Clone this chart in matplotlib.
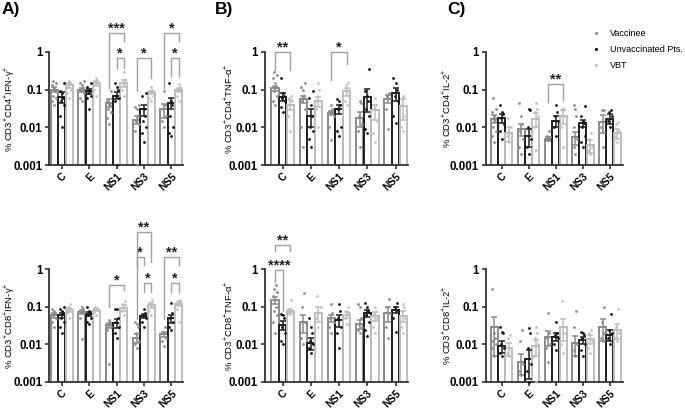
import numpy as np
import matplotlib.pyplot as plt
from matplotlib.lines import Line2D
from matplotlib.ticker import NullLocator

plt.rcParams['font.family'] = 'Liberation Sans'
plt.rcParams['mathtext.fontset'] = 'custom'
plt.rcParams['mathtext.rm'] = 'Liberation Sans'
plt.rcParams['mathtext.it'] = 'Liberation Sans:italic'
plt.rcParams['mathtext.bf'] = 'Liberation Sans:bold'

groups = ['C', 'E', 'NS1', 'NS3', 'NS5']
series = ['Vaccinee', 'Unvaccinated Pts.', 'VBT']

# CD4 IFN-g
cd4_ifn_mean = [[0.10, 0.10, 0.045, 0.016, 0.030],
                [0.065, 0.090, 0.070, 0.030, 0.045],
                [0.13, 0.15, 0.15, 0.085, 0.10]]
cd4_ifn_sem = [[0.015, 0.012, 0.010, 0.004, 0.012],
               [0.020, 0.012, 0.015, 0.010, 0.015],
               [0.020, 0.025, 0.030, 0.010, 0.012]]
cd4_ifn_pts = [[[0.04, 0.05, 0.06, 0.07, 0.09, 0.11, 0.13, 0.15, 0.17],
                [0.05, 0.06, 0.08, 0.09, 0.11, 0.13, 0.15, 0.17],
                [0.012, 0.018, 0.025, 0.03, 0.04, 0.045, 0.05, 0.09],
                [0.001, 0.008, 0.012, 0.015, 0.02, 0.03, 0.035, 0.038],
                [0.01, 0.015, 0.02, 0.03, 0.04, 0.09]],
               [[0.01, 0.02, 0.04, 0.05, 0.06, 0.08, 0.09, 0.15],
                [0.03, 0.06, 0.07, 0.08, 0.09, 0.1, 0.12, 0.15],
                [0.001, 0.05, 0.06, 0.07, 0.1, 0.12, 0.15],
                [0.004, 0.007, 0.01, 0.015, 0.02, 0.03, 0.07, 0.08],
                [0.006, 0.007, 0.01, 0.02, 0.04, 0.05, 0.15]],
               [[0.06, 0.08, 0.1, 0.13, 0.15, 0.17],
                [0.07, 0.1, 0.13, 0.15, 0.18, 0.2],
                [0.07, 0.1, 0.13, 0.15, 0.18, 0.3],
                [0.05, 0.06, 0.07, 0.09, 0.1, 0.12],
                [0.05, 0.07, 0.09, 0.1, 0.12, 0.14]]]

# CD4 TNF-a
cd4_tnf_mean = [[0.11, 0.055, 0.024, 0.018, 0.058],
                [0.065, 0.020, 0.030, 0.065, 0.080],
                [0.040, 0.050, 0.090, 0.028, 0.036]]
cd4_tnf_sem = [[0.015, 0.012, 0.003, 0.008, 0.015],
               [0.015, 0.010, 0.008, 0.040, 0.030],
               [0.012, 0.015, 0.020, 0.012, 0.020]]
cd4_tnf_pts = [[[0.04, 0.05, 0.07, 0.09, 0.12, 0.15, 0.2, 0.25, 0.3],
                [0.003, 0.01, 0.03, 0.05, 0.07, 0.1, 0.12, 0.15],
                [0.0045, 0.01, 0.02, 0.025, 0.03, 0.04],
                [0.003, 0.008, 0.012, 0.02, 0.045, 0.05],
                [0.009, 0.03, 0.06, 0.07, 0.08]],
               [[0.025, 0.035, 0.05, 0.06, 0.07, 0.08, 0.2],
                [0.003, 0.005, 0.008, 0.01, 0.02, 0.04, 0.06, 0.09],
                [0.006, 0.008, 0.01, 0.03, 0.04, 0.05, 0.055],
                [0.007, 0.009, 0.02, 0.03, 0.05, 0.07, 0.09, 0.35],
                [0.013, 0.02, 0.05, 0.07, 0.1, 0.15, 0.2]],
               [[0.008, 0.02, 0.05, 0.06, 0.07],
                [0.01, 0.03, 0.05, 0.07, 0.1, 0.15],
                [0.04, 0.05, 0.1, 0.13, 0.15],
                [0.004, 0.007, 0.015, 0.03, 0.04, 0.06],
                [0.008, 0.01, 0.02, 0.04, 0.06, 0.07]]]

# CD4 IL-2
cd4_il2_mean = [[0.017, 0.009, 0.005, 0.0055, 0.014],
                [0.018, 0.006, 0.015, 0.013, 0.017],
                [0.007, 0.017, 0.020, 0.0033, 0.007]]
cd4_il2_sem = [[0.004, 0.003, 0.0007, 0.002, 0.007],
               [0.005, 0.003, 0.005, 0.003, 0.005],
               [0.003, 0.007, 0.008, 0.0012, 0.002]]
cd4_il2_pts = [[[0.004, 0.006, 0.008, 0.01, 0.015, 0.02, 0.025, 0.03, 0.06],
                [0.002, 0.003, 0.005, 0.008, 0.012, 0.02, 0.045],
                [0.0045, 0.005, 0.0055, 0.006, 0.008],
                [0.002, 0.003, 0.005, 0.01, 0.02, 0.03, 0.04],
                [0.003, 0.01, 0.028, 0.028]],
               [[0.005, 0.008, 0.012, 0.018, 0.022, 0.025, 0.04],
                [0.002, 0.003, 0.005, 0.01, 0.028, 0.03],
                [0.006, 0.01, 0.015, 0.02, 0.025, 0.038],
                [0.003, 0.004, 0.006, 0.01, 0.013, 0.015, 0.02, 0.037],
                [0.01, 0.015, 0.02, 0.025, 0.028]],
               [[0.004, 0.006, 0.01, 0.018],
                [0.0025, 0.01, 0.02, 0.025, 0.03, 0.045],
                [0.003, 0.01, 0.02, 0.028, 0.03, 0.032],
                [0.002, 0.0025, 0.003, 0.005, 0.007],
                [0.004, 0.006, 0.008, 0.012, 0.014]]]

# CD8 IFN-g
cd8_ifn_mean = [[0.060, 0.075, 0.033, 0.015, 0.019],
                [0.060, 0.065, 0.037, 0.058, 0.050],
                [0.085, 0.085, 0.095, 0.11, 0.12]]
cd8_ifn_sem = [[0.008, 0.010, 0.005, 0.004, 0.003],
               [0.010, 0.008, 0.010, 0.008, 0.012],
               [0.010, 0.008, 0.015, 0.015, 0.015]]
cd8_ifn_pts = [[[0.03, 0.04, 0.05, 0.06, 0.07, 0.08, 0.09],
                [0.014, 0.05, 0.07, 0.08, 0.09, 0.1],
                [0.003, 0.025, 0.03, 0.033, 0.04, 0.045],
                [0.008, 0.01, 0.012, 0.02, 0.03, 0.035, 0.04],
                [0.009, 0.012, 0.015, 0.02, 0.03]],
               [[0.02, 0.03, 0.04, 0.05, 0.07, 0.08, 0.09, 0.1],
                [0.035, 0.04, 0.05, 0.06, 0.07, 0.08, 0.1],
                [0.015, 0.02, 0.03, 0.04, 0.05, 0.09, 0.09],
                [0.03, 0.04, 0.05, 0.06, 0.07, 0.09],
                [0.025, 0.03, 0.04, 0.05, 0.07, 0.13]],
               [[0.05, 0.07, 0.09, 0.1, 0.12],
                [0.06, 0.075, 0.085, 0.1],
                [0.06, 0.08, 0.1, 0.12, 0.14],
                [0.06, 0.08, 0.1, 0.13, 0.15],
                [0.04, 0.09, 0.12, 0.14, 0.15]]]

# CD8 TNF-a
cd8_tnf_mean = [[0.15, 0.040, 0.050, 0.036, 0.070],
                [0.033, 0.011, 0.045, 0.070, 0.085],
                [0.080, 0.070, 0.062, 0.058, 0.058]]
cd8_tnf_sem = [[0.030, 0.020, 0.010, 0.010, 0.030],
               [0.008, 0.004, 0.015, 0.015, 0.015],
               [0.010, 0.030, 0.012, 0.015, 0.018]]
cd8_tnf_pts = [[[0.02, 0.04, 0.06, 0.08, 0.1, 0.15, 0.2, 0.25, 0.3, 0.38],
                [0.01, 0.015, 0.04, 0.1, 0.24],
                [0.02, 0.03, 0.04, 0.05, 0.07, 0.12],
                [0.02, 0.025, 0.03, 0.035, 0.05, 0.1, 0.12],
                [0.015, 0.03, 0.07, 0.1, 0.16]],
               [[0.01, 0.012, 0.02, 0.03, 0.05, 0.06, 0.065],
                [0.006, 0.008, 0.01, 0.012, 0.02, 0.03, 0.05],
                [0.008, 0.02, 0.03, 0.05, 0.08, 0.12],
                [0.017, 0.025, 0.04, 0.06, 0.08, 0.1, 0.13],
                [0.022, 0.05, 0.08, 0.1, 0.13]],
               [[0.065, 0.07, 0.08, 0.09, 0.15],
                [0.03, 0.05, 0.1, 0.2],
                [0.035, 0.05, 0.07, 0.08, 0.1],
                [0.02, 0.03, 0.05, 0.07, 0.08, 0.1],
                [0.02, 0.03, 0.05, 0.08, 0.1, 0.12]]]

# CD8 IL-2
cd8_il2_mean = [[0.030, 0.0035, 0.016, 0.011, 0.030],
                [0.009, 0.0042, 0.016, 0.013, 0.018],
                [0.008, 0.009, 0.030, 0.014, 0.024]]
cd8_il2_sem = [[0.025, 0.002, 0.007, 0.006, 0.018],
               [0.003, 0.003, 0.004, 0.003, 0.006],
               [0.003, 0.004, 0.018, 0.004, 0.010]]
cd8_il2_pts = [[[0.005, 0.008, 0.01, 0.012, 0.015, 0.02, 0.3],
                [0.0015, 0.002, 0.003, 0.012, 0.024],
                [0.0035, 0.008, 0.01, 0.015, 0.02, 0.07],
                [0.005, 0.007, 0.01, 0.03, 0.08],
                [0.012, 0.015, 0.02, 0.04, 0.1]],
               [[0.005, 0.006, 0.008, 0.01, 0.02, 0.022, 0.03],
                [0.001, 0.002, 0.003, 0.008, 0.02, 0.027],
                [0.007, 0.01, 0.015, 0.018, 0.02, 0.04],
                [0.005, 0.007, 0.01, 0.015, 0.018, 0.02, 0.022],
                [0.01, 0.015, 0.02, 0.025, 0.065]],
               [[0.005, 0.006, 0.008, 0.015, 0.018],
                [0.001, 0.005, 0.01, 0.015, 0.02, 0.03],
                [0.006, 0.01, 0.02, 0.14],
                [0.006, 0.008, 0.012, 0.02, 0.025],
                [0.012, 0.015, 0.02, 0.03, 0.09]]]

# significance brackets: (group, bar a, bar b, top, left leg end, right leg end, label)
cd4_ifn_sig = [(2, 0, 2, 3.2, 0.11, 2.0, '***'), (2, 1, 2, 0.68, 0.38, 0.38, '*'),
               (3, 0, 2, 0.68, 0.09, 0.21, '*'), (4, 0, 2, 3.2, 0.11, 2.0, '*'),
               (4, 1, 2, 0.68, 0.23, 0.23, '*')]
cd4_tnf_sig = [(0, 0, 2, 1.0, 0.33, 0.33, '**'), (2, 0, 2, 1.0, 0.18, 0.47, '*')]
cd4_il2_sig = [(2, 0, 2, 0.14, 0.047, 0.053, '**')]
cd8_ifn_sig = [(2, 0, 2, 0.39, 0.1, 0.28, '*'), (3, 0, 2, 9.7, 1.22, 1.53, '**'),
               (3, 0, 1, 2.08, 0.047, 1.28, '*'), (3, 1, 2, 0.43, 0.25, 0.25, '*'),
               (4, 0, 2, 2.08, 0.047, 1.28, '**'), (4, 1, 2, 0.43, 0.25, 0.25, '*')]
cd8_tnf_sig = [(0, 0, 1, 0.96, 0.45, 0.078, '****'), (0, 0, 2, 4.4, 3.06, 3.06, '**')]
cd8_il2_sig = []

edge_cols = ['#8a8a8a', '#1e1e1e', '#bdbdbd']
dot_cols = ['#8c8c8c', '#111111', '#c4c4c4']
bw = 0.26
offs = [-0.27, 0.0, 0.27]
jit = [0, -0.28, 0.28, -0.14, 0.14]
axis_col = '#333333'


def draw(ax, means, sems, pts, ylabel, sig, xlim, ylab_x):
    x = np.arange(len(groups))
    ax.set_yscale('log')
    for s in range(3):
        xs = x + offs[s]
        m = np.array(means[s])
        e = np.array(sems[s])
        ax.bar(xs, m - 1e-4, bottom=1e-4, width=bw, color='white',
               edgecolor=edge_cols[s], linewidth=1.4, zorder=2)
        for g in range(len(groups)):
            vals = sorted(pts[s][g])
            dx = [jit[k % len(jit)] * bw for k in range(len(vals))]
            ax.scatter(xs[g] + np.array(dx), vals, s=4, color=dot_cols[s],
                       linewidths=0, zorder=3, clip_on=False)
        ax.errorbar(xs, m, yerr=[np.minimum(e, m * 0.9), e], fmt='none',
                    ecolor=edge_cols[s], elinewidth=1.1, capsize=2,
                    capthick=1.1, zorder=4)
    for g, a, b, top, yl, yr, lab in sig:
        xa = g + offs[a]
        xb = g + offs[b]
        ax.plot([xa, xa, xb, xb], [yl, top, top, yr], color='#a0a0a0',
                lw=1.0, clip_on=False, zorder=5)
        ax.annotate(lab, xy=((xa + xb) / 2, top), xytext=(0, 0.5),
                    textcoords='offset points', ha='center', va='baseline',
                    fontsize=10.5, fontweight='bold', color='#222222',
                    annotation_clip=False)
    ax.set_ylim(0.001, 1)
    ax.set_xlim(*xlim)
    ax.set_yticks([0.001, 0.01, 0.1, 1])
    ax.set_yticklabels(['0.001', '0.01', '0.1', '1'], fontweight='bold')
    ax.yaxis.set_minor_locator(NullLocator())
    ax.set_xticks(x)
    ax.set_xticklabels(groups, rotation=45, ha='right', rotation_mode='anchor',
                       fontweight='bold')
    ax.tick_params(width=1.2, length=3, color=axis_col, pad=2)
    ax.tick_params(axis='y', labelsize=8.3)
    ax.tick_params(axis='x', labelsize=7.4, pad=1.5)
    for sp in ['top', 'right']:
        ax.spines[sp].set_visible(False)
    for sp in ['left', 'bottom']:
        ax.spines[sp].set_linewidth(1.3)
        ax.spines[sp].set_color(axis_col)
    ax.set_ylabel(ylabel, fontsize=6.8)
    ax.yaxis.set_label_coords(ylab_x, 0.5)


fig = plt.figure(figsize=(6.85, 4.11), dpi=100)
lefts = [0.072, 0.387, 0.709]
widths = [0.195, 0.209, 0.201]
xlims = [(-0.45, 4.42), (-0.62, 4.45), (-0.59, 4.5)]
ylab_xs = [-0.245, -0.21, -0.235]
rows = [(0.5985, 0.275), (0.0706, 0.274)]

panels = [
    (0, 0, cd4_ifn_mean, cd4_ifn_sem, cd4_ifn_pts, '% CD3$^{+}$CD4$^{+}$IFN-γ$^{+}$', cd4_ifn_sig),
    (0, 1, cd4_tnf_mean, cd4_tnf_sem, cd4_tnf_pts, '% CD3$^{+}$CD4$^{+}$TNF-α$^{+}$', cd4_tnf_sig),
    (0, 2, cd4_il2_mean, cd4_il2_sem, cd4_il2_pts, '% CD3$^{+}$CD4$^{+}$IL-2$^{+}$', cd4_il2_sig),
    (1, 0, cd8_ifn_mean, cd8_ifn_sem, cd8_ifn_pts, '% CD3$^{+}$CD8$^{+}$IFN-γ$^{+}$', cd8_ifn_sig),
    (1, 1, cd8_tnf_mean, cd8_tnf_sem, cd8_tnf_pts, '% CD3$^{+}$CD8$^{+}$TNF-α$^{+}$', cd8_tnf_sig),
    (1, 2, cd8_il2_mean, cd8_il2_sem, cd8_il2_pts, '% CD3$^{+}$CD8$^{+}$IL-2$^{+}$', cd8_il2_sig),
]
for r, c, mn, se, pt, yl, sg in panels:
    ax = fig.add_axes([lefts[c], rows[r][0], widths[c], rows[r][1]])
    draw(ax, mn, se, pt, yl, sg, xlims[c], ylab_xs[c])

for lab, xp in zip(['A)', 'B)', 'C)'], [0.003, 0.314, 0.653]):
    fig.text(xp, 0.995, lab, fontsize=12.5, fontweight='bold', va='top', ha='left')

handles = [Line2D([], [], ls='none', marker='o', markersize=2.3,
                  markerfacecolor=dot_cols[i], markeredgewidth=0)
           for i in range(3)]
fig.legend(handles, series, loc='upper left', bbox_to_anchor=(0.865, 0.93),
           frameon=False, fontsize=6.5, handlelength=0.8, handletextpad=1.1,
           labelspacing=0.8, borderpad=0, borderaxespad=0)

fig.savefig('out.png', dpi=100)
